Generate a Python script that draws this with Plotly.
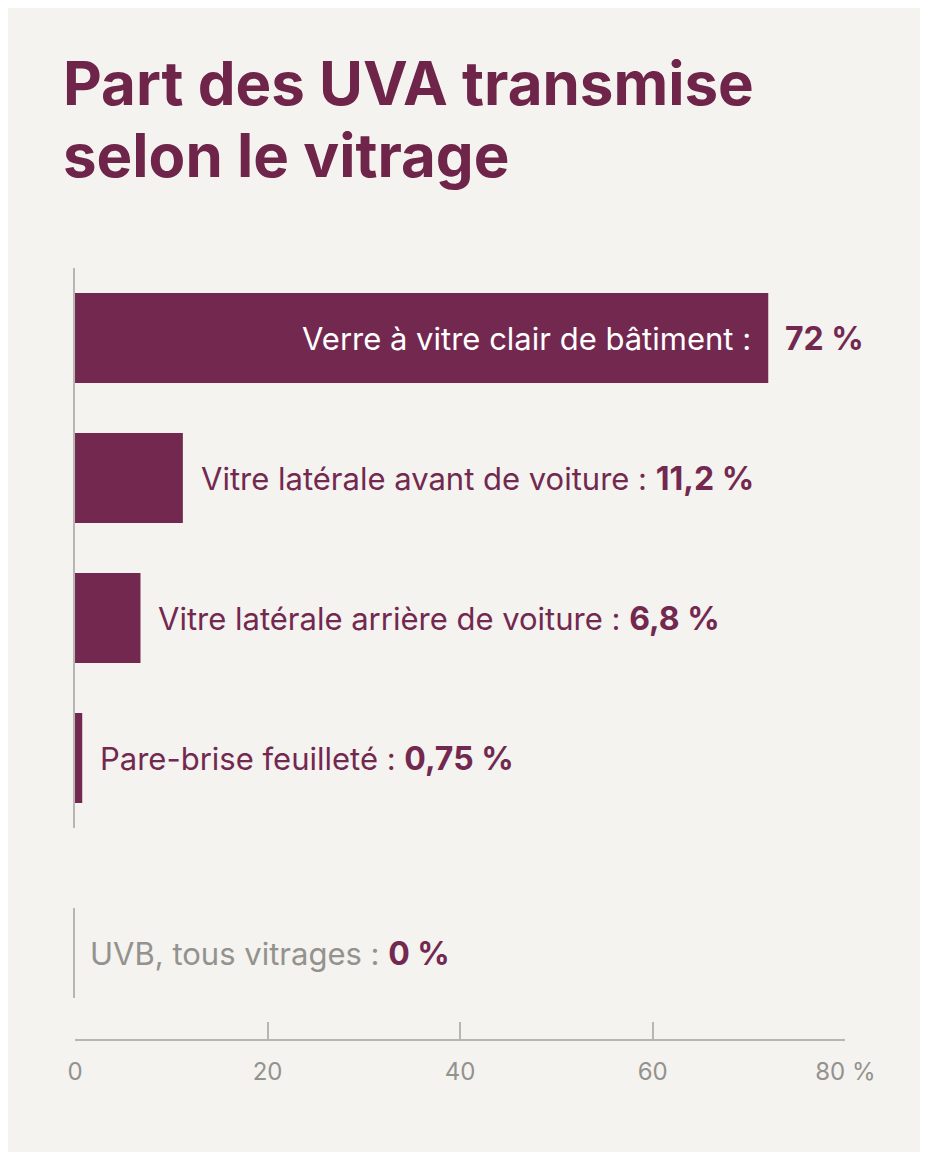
import plotly.graph_objects as go

# Share of UVA transmitted by glazing type
categories = ["Verre à vitre clair de bâtiment", "Vitre latérale avant de voiture",
              "Vitre latérale arrière de voiture", "Pare-brise feuilleté"]
values = [72, 11.2, 6.8, 0.75]
value_labels = ["72 %", "11,2 %", "6,8 %", "0,75 %"]

uvb_category = ["UVB, tous vitrages"]
uvb_values = [0]
uvb_labels = ["0 %"]

tick_vals = [0, 20, 40, 60, 80]
tick_text = ["0", "20", "40", "60", "80 %"]

title_lines = ["Part des UVA transmise", "selon le vitrage"]

PLUM = "#73284f"
TITLE = "#6f2449"
GREY_LINE = "#b8b6b1"
GREY_TXT = "#93928e"
BG = "#f4f3ef"
W, H = 928, 1152
FONT = "Inter"


# page pixel -> paper fraction (the page adds a small offset around the figure)
def px(x):
    return (x - 14.7) / 894.3


def py(y):
    return 1 - (y - 8) / H


fig = go.Figure()
fig.add_trace(go.Bar(x=values, y=categories, orientation="h", marker=dict(color=PLUM, line_width=0),
                     xaxis="x", yaxis="y", hoverinfo="skip"))
fig.add_trace(go.Bar(x=uvb_values, y=uvb_category, orientation="h", marker=dict(color=PLUM, line_width=0),
                     xaxis="x2", yaxis="y2", hoverinfo="skip"))

ann = []
for yy, line in zip([83, 155], title_lines):
    ann.append(dict(x=px(60), y=py(yy), xref="paper", yref="paper", xanchor="left", yanchor="middle",
                    text="<b>" + line + "</b>", showarrow=False,
                    font=dict(family=FONT, size=60, color=TITLE)))

for i, (cat, v, lab) in enumerate(zip(categories, values, value_labels)):
    if i == 0:
        # label sits inside the long bar
        ann.append(dict(x=v, y=cat, xref="x", yref="y", xanchor="right", xshift=-15,
                        text=cat + " :", showarrow=False,
                        font=dict(family=FONT, size=31, color="white")))
        ann.append(dict(x=v, y=cat, xref="x", yref="y", xanchor="left", xshift=15,
                        text="<b>" + lab + "</b>", showarrow=False,
                        font=dict(family=FONT, size=32, color=PLUM)))
    else:
        ann.append(dict(x=v, y=cat, xref="x", yref="y", xanchor="left", xshift=16,
                        text=cat + " : <b><span style='font-size:32px'>" + lab + "</span></b>",
                        showarrow=False, font=dict(family=FONT, size=31, color=PLUM)))

ann.append(dict(x=uvb_values[0], y=uvb_category[0], xref="x2", yref="y2", xanchor="left", xshift=13,
                text=uvb_category[0] + " : <b><span style='font-size:32px;color:" + PLUM + "'>"
                     + uvb_labels[0] + "</span></b>",
                showarrow=False, font=dict(family=FONT, size=31, color=GREY_TXT)))

xdom = [px(74), px(848)]
fig.update_layout(
    width=W, height=H,
    paper_bgcolor=BG, plot_bgcolor=BG,
    margin=dict(l=0, r=0, t=0, b=0),
    showlegend=False, bargap=0.357,
    xaxis=dict(domain=xdom, range=[0, 80], anchor="y", visible=False, fixedrange=True),
    yaxis=dict(domain=[py(828), py(268)], anchor="x", autorange="reversed",
               showticklabels=False, ticks="", showgrid=False, zeroline=False,
               showline=True, linecolor=GREY_LINE, linewidth=1.5),
    xaxis2=dict(domain=xdom, range=[0, 80], anchor="free", position=py(1040),
                showline=True, linecolor=GREY_LINE, linewidth=1.5, showgrid=False, zeroline=False,
                ticks="inside", ticklen=17, tickwidth=1.5, tickcolor=GREY_LINE,
                tickvals=tick_vals, ticktext=tick_text, ticklabelstandoff=10,
                tickfont=dict(family=FONT, size=24, color=GREY_TXT)),
    yaxis2=dict(domain=[py(998), py(908)], anchor="x2",
                showticklabels=False, ticks="", showgrid=False, zeroline=False,
                showline=True, linecolor=GREY_LINE, linewidth=1.5),
    annotations=ann,
)

fig.write_html("out.html")
